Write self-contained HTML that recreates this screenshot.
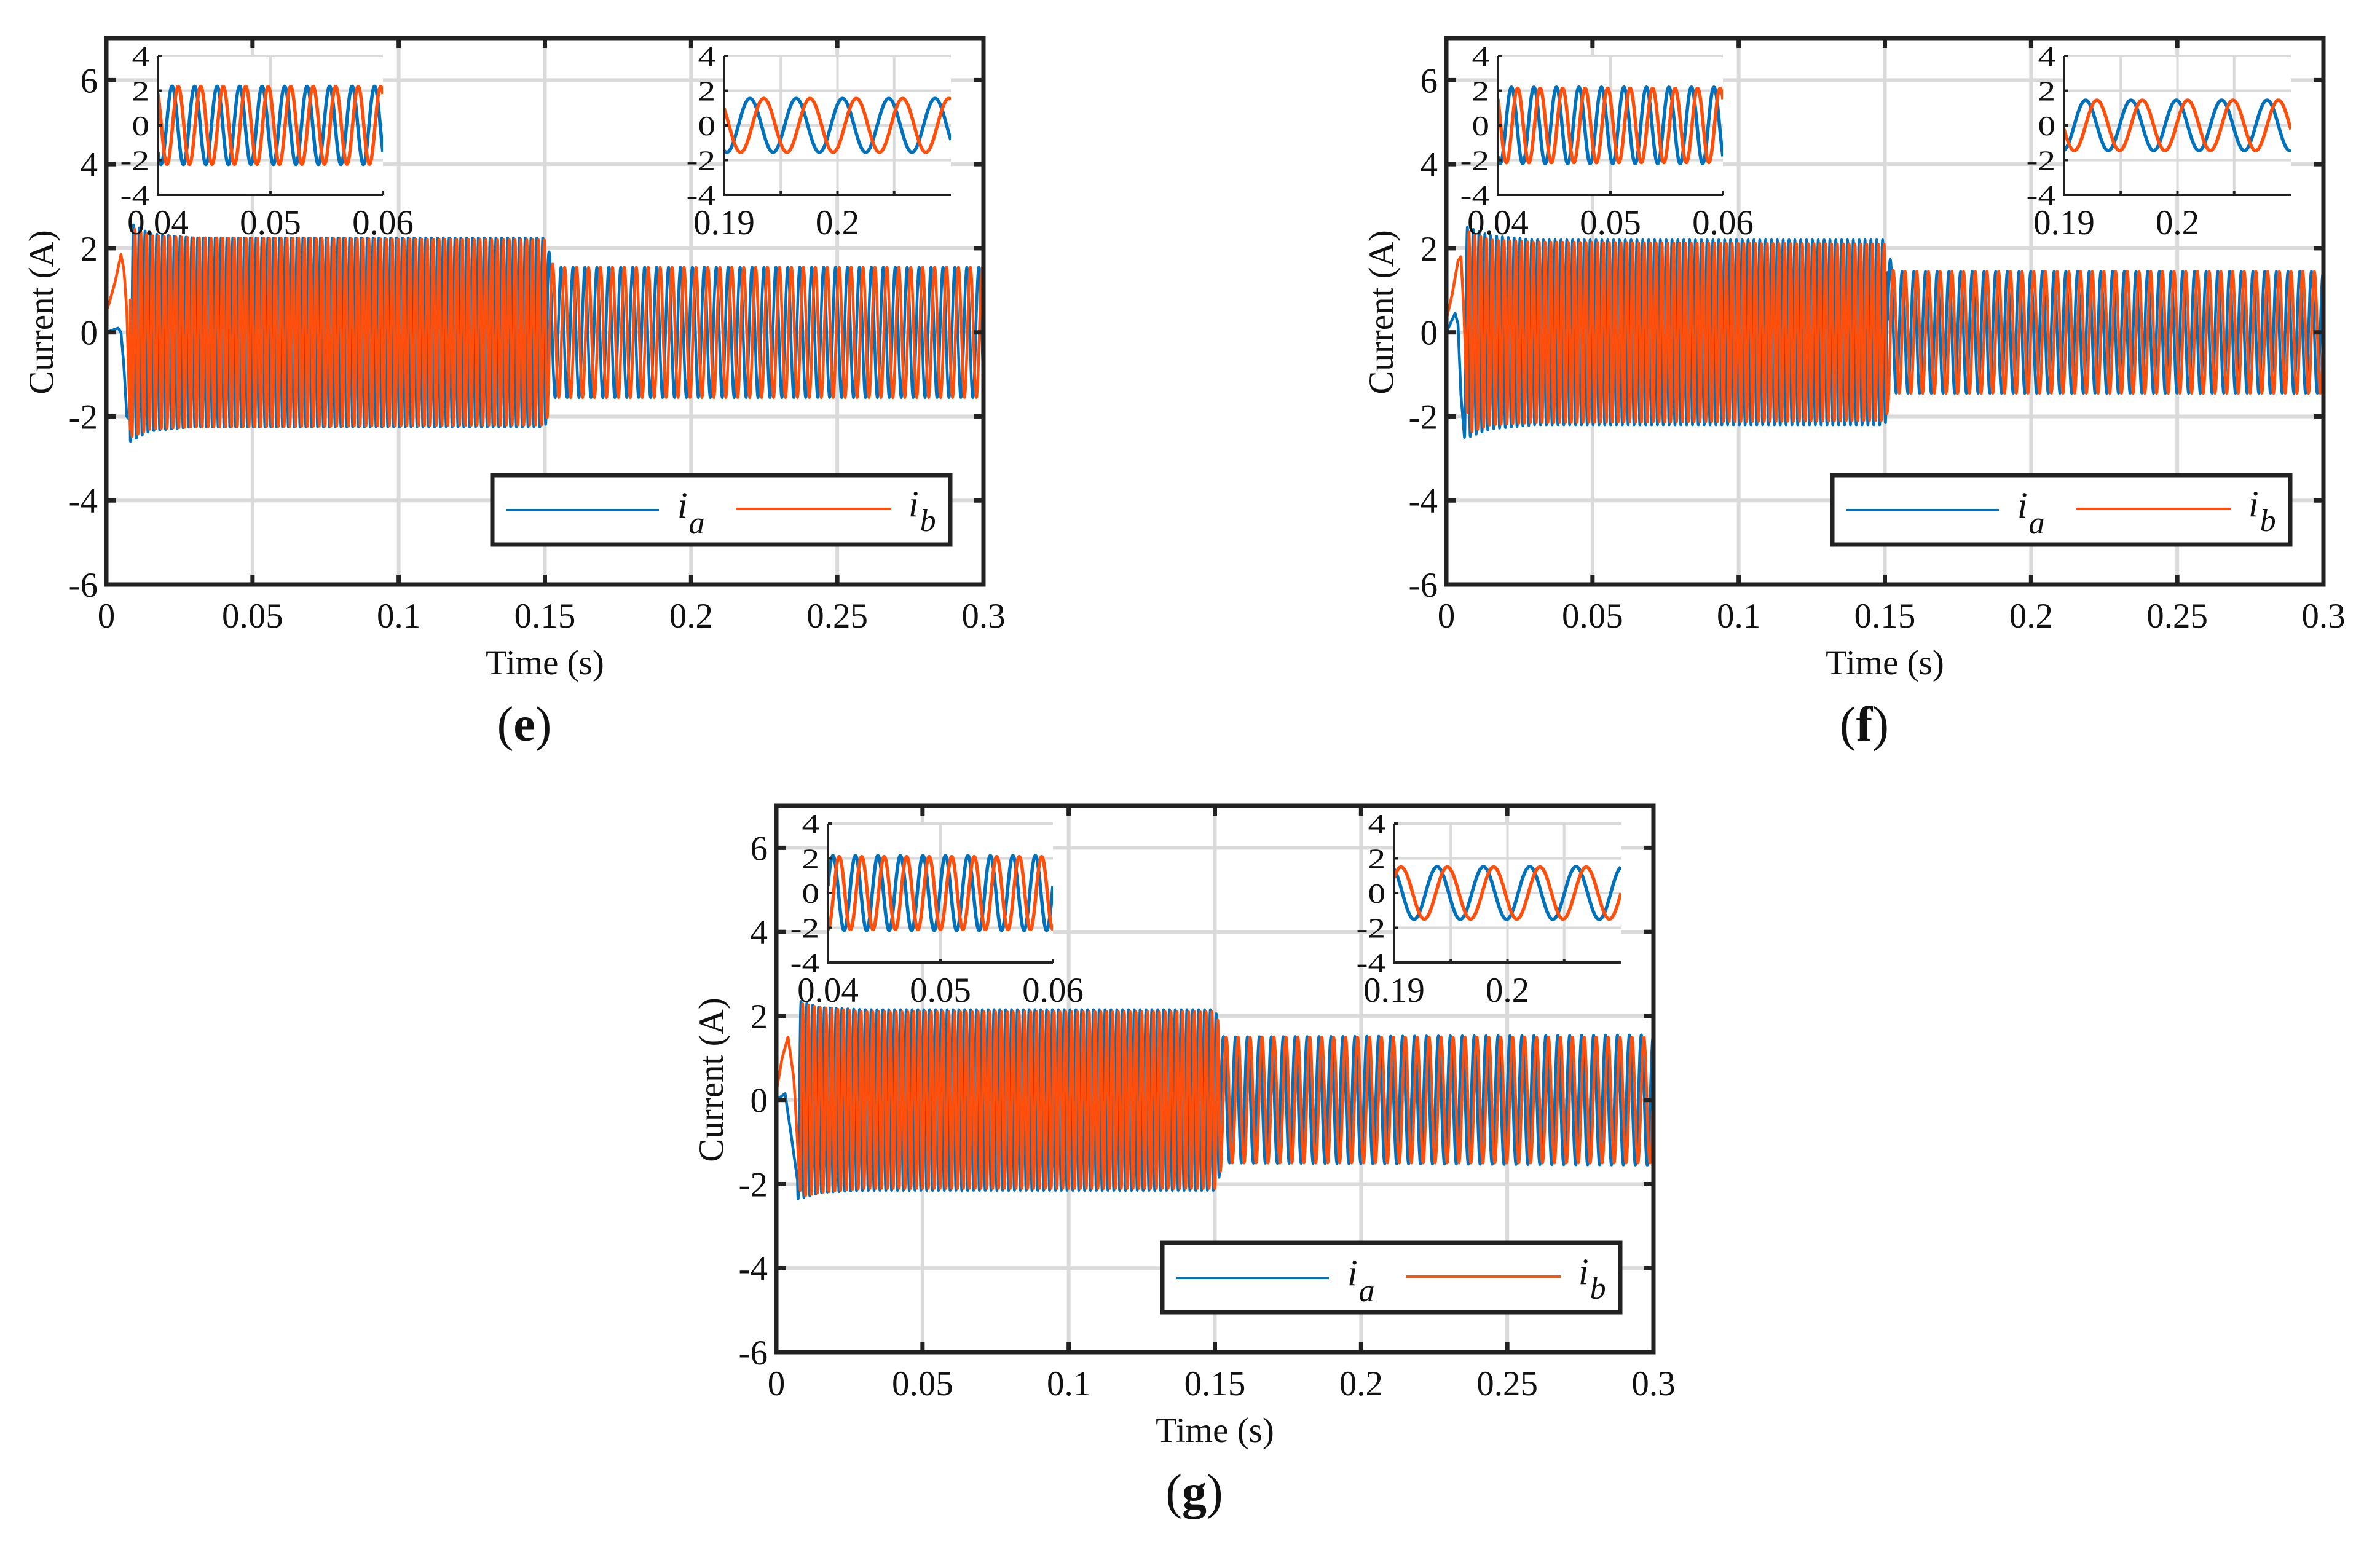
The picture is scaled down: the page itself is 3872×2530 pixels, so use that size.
<!DOCTYPE html>
<html>
<head>
<meta charset="utf-8">
<style>
html,body{margin:0;padding:0;background:#fff;}
svg{display:block;}
text{font-family:"Liberation Serif",serif;fill:#111;}
</style>
</head>
<body>
<svg id="fig" width="3872" height="2530" viewBox="0 0 3872 2530" xmlns="http://www.w3.org/2000/svg">
<rect x="0" y="0" width="3872" height="2530" fill="#fff"/>
</svg>
<script>
// ---------- data ----------
const xTicks = [0, 0.05, 0.1, 0.15, 0.2, 0.25, 0.3];
const xTickLabels = ["0", "0.05", "0.1", "0.15", "0.2", "0.25", "0.3"];
const yTicks = [-6, -4, -2, 0, 2, 4, 6];
const yTickLabels = ["-6", "-4", "-2", "0", "2", "4", "6"];
const insetYTicks = [-4, -2, 0, 2, 4];
const insetYTickLabels = ["-4", "-2", "0", "2", "4"];
const inset1XTicks = [0.04, 0.05, 0.06];
const inset1XTickLabels = ["0.04", "0.05", "0.06"];
const inset1XGrid = [0.05];
const inset2XTicks = [0.19, 0.195, 0.2, 0.205];
const inset2XTickLabels = ["0.19", "", "0.2", ""];
const inset2XGrid = [0.195, 0.2, 0.205];
const panelLabels = ["e", "f", "g"];

// switching instant and frequencies (Hz) before / after the step
const switchTimes = [0.151, 0.151, 0.152];
const freqPre = [500, 500, 500];
const freqPost = [245, 250, 245];

// panel e
const eStartTA = [0, 0.002, 0.004, 0.005, 0.006, 0.007, 0.0082];
const eStartA  = [0, 0.05, 0.1, 0.0, -0.8, -2.0, -2.1];
const eStartTB = [0, 0.001, 0.003, 0.005, 0.006, 0.007, 0.0082];
const eStartB  = [0.5, 0.7, 1.2, 1.85, 1.5, 0.5, -2.4];
const eEnvT = [0.0082, 0.015, 0.03, 0.15, 0.153, 0.3];
const eEnvA = [2.6, 2.35, 2.25, 2.25, 1.55, 1.55];
const eEnvB = [2.5, 2.3, 2.25, 2.2, 1.55, 1.55];
const ePeakPre = [0.04126, 0.0418];
const ePeakPost = [0.19228, 0.1935];

// panel f
const fStartTA = [0, 0.002, 0.003, 0.004, 0.005, 0.0062];
const fStartA  = [0, 0.3, 0.45, 0.2, -1.5, -2.5];
const fStartTB = [0, 0.002, 0.004, 0.005, 0.006, 0.0072];
const fStartB  = [0.3, 0.9, 1.7, 1.8, 0.5, -2.0];
const fEnvT = [0.0072, 0.015, 0.03, 0.15, 0.153, 0.3];
const fEnvA = [2.5, 2.3, 2.2, 2.2, 1.45, 1.45];
const fEnvB = [2.4, 2.2, 2.15, 2.1, 1.45, 1.45];
const fPeakPre = [0.0412, 0.04175];
const fPeakPost = [0.1919, 0.1929];

// panel g
const gStartTA = [0, 0.002, 0.003, 0.005, 0.0072];
const gStartA  = [0, 0.1, 0.15, -0.8, -1.9];
const gStartTB = [0, 0.002, 0.004, 0.006, 0.0082];
const gStartB  = [0.2, 1.0, 1.5, 0.5, -2.2];
const gEnvT = [0.0082, 0.015, 0.03, 0.15, 0.153, 0.3];
const gEnvA = [2.35, 2.2, 2.15, 2.15, 1.5, 1.55];
const gEnvB = [2.3, 2.2, 2.1, 2.1, 1.5, 1.5];
const gPeakPre = [0.04044, 0.0410];
const gPeakPost = [0.1938, 0.1947];

// ---------- drawing ----------
const NS = "http://www.w3.org/2000/svg";
const svg = document.getElementById("fig");
const BLUE = "#0072BD", ORANGE = "#FF4F0A", GRID = "#dadada", AX = "#222";

function mk(tag, attrs, parent) {
  const e = document.createElementNS(NS, tag);
  for (const k in attrs) e.setAttribute(k, attrs[k]);
  (parent || svg).appendChild(e);
  return e;
}
function interp(ts, vs, t) {
  if (t <= ts[0]) return vs[0];
  for (let i = 1; i < ts.length; i++) {
    if (t <= ts[i]) { const r = (t - ts[i-1]) / (ts[i] - ts[i-1]); return vs[i-1] + r * (vs[i] - vs[i-1]); }
  }
  return vs[vs.length - 1];
}
function model(p, s) {
  const st = s === 0 ? p.startTA : p.startTB;
  const sv = s === 0 ? p.startA : p.startB;
  const env = s === 0 ? p.envA : p.envB;
  return function (t) {
    if (t < st[st.length - 1]) return interp(st, sv, t);
    const A = interp(p.envT, env, t);
    let f, tp;
    if (t < p.sw) { f = p.fPre; tp = p.peakPre[s]; } else { f = p.fPost; tp = p.peakPost[s]; }
    return A * Math.cos(2 * Math.PI * f * (t - tp));
  };
}

const panels = [
  {ox: 0, oy: 0, startTA: eStartTA, startA: eStartA, startTB: eStartTB, startB: eStartB, envT: eEnvT, envA: eEnvA, envB: eEnvB, peakPre: ePeakPre, peakPost: ePeakPost},
  {ox: 2180, oy: 0, startTA: fStartTA, startA: fStartA, startTB: fStartTB, startB: fStartB, envT: fEnvT, envA: fEnvA, envB: fEnvB, peakPre: fPeakPre, peakPost: fPeakPost},
  {ox: 1090, oy: 1249, startTA: gStartTA, startA: gStartA, startTB: gStartTB, startB: gStartB, envT: gEnvT, envA: gEnvA, envB: gEnvB, peakPre: gPeakPre, peakPost: gPeakPost}
];
panels.forEach((p, i) => { p.sw = switchTimes[i]; p.fPre = freqPre[i]; p.fPost = freqPost[i]; p.label = panelLabels[i]; });

function tracePath(fn, t0, t1, dt, X, Y) {
  let d = "";
  for (let t = t0; t <= t1 + 1e-12; t += dt) {
    d += (d ? "L" : "M") + X(t).toFixed(1) + "," + Y(fn(t)).toFixed(1);
  }
  return d;
}

function drawPanel(p, idx) {
  const ox = p.ox, oy = p.oy;
  const L = ox + 173, R = ox + 1600, T = oy + 62, B = oy + 951;
  const X = t => L + (t - 0) / 0.3 * (R - L);
  const Y = v => T + (7 - v) / 13 * (B - T);
  const g = mk("g", {});
  
  

  const grid = mk("g", {}, g);
  
  
  xTicks.forEach(t => mk("line", {x1: X(t), x2: X(t), y1: T, y2: B, stroke: GRID, "stroke-width": 6}, grid));
  yTicks.forEach(v => mk("line", {x1: L, x2: R, y1: Y(v), y2: Y(v), stroke: GRID, "stroke-width": 6}, grid));

  const cid = "clip" + idx;
  const cp = mk("clipPath", {id: cid});
  mk("rect", {x: L, y: T, width: R - L, height: B - T}, cp);

  const fa = model(p, 0), fb = model(p, 1);
  const lines = mk("g", {"clip-path": "url(#" + cid + ")"}, g);
  const la = mk("path", {d: tracePath(fa, 0, 0.3, 0.00004, X, Y), fill: "none", stroke: BLUE, "stroke-width": 4.5, "stroke-linejoin": "round"}, lines);
  
  
  const lb = mk("path", {d: tracePath(fb, 0, 0.3, 0.00004, X, Y), fill: "none", stroke: ORANGE, "stroke-width": 4.5, "stroke-linejoin": "round"}, lines);
  
  

  xTicks.forEach(t => {
    mk("line", {x1: X(t), x2: X(t), y1: B, y2: B - 16, stroke: AX, "stroke-width": 7}, g);
    mk("line", {x1: X(t), x2: X(t), y1: T, y2: T + 16, stroke: AX, "stroke-width": 7}, g);
  });
  yTicks.forEach(v => {
    mk("line", {x1: L, x2: L + 16, y1: Y(v), y2: Y(v), stroke: AX, "stroke-width": 7}, g);
    mk("line", {x1: R, x2: R - 16, y1: Y(v), y2: Y(v), stroke: AX, "stroke-width": 7}, g);
  });

  drawInset(p, idx, 1, ox + 257, ox + 623, 0.04, 0.06, inset1XTicks, inset1XTickLabels, inset1XGrid, fa, fb, g);
  drawInset(p, idx, 2, ox + 1178, ox + 1547, 0.19, 0.21, inset2XTicks, inset2XTickLabels, inset2XGrid, fa, fb, g);

  const frame = mk("rect", {x: L, y: T, width: R - L, height: B - T, fill: "none", stroke: AX, "stroke-width": 7}, g);
  
  

  xTicks.forEach((t, i) => {
    const tx = mk("text", {x: X(t), y: oy + 1021, "font-size": 57, "text-anchor": "middle"}, g);
    tx.textContent = xTickLabels[i];
    
    
  });
  yTicks.forEach((v, i) => {
    const tx = mk("text", {x: L - 14, y: Y(v) + 20, "font-size": 57, "text-anchor": "end"}, g);
    tx.textContent = yTickLabels[i];
    
    
  });

  const xt = mk("text", {x: (L + R) / 2, y: oy + 1097, "font-size": 57, "text-anchor": "middle"}, g);
  xt.textContent = "Time (s)";
  
  
  const yt = mk("text", {x: 0, y: 0, "font-size": 57, "text-anchor": "middle", transform: "translate(" + (ox + 86) + "," + (oy + 508) + ") rotate(-90)"}, g);
  yt.textContent = "Current (A)";
  
  

  const pl = mk("text", {x: ox + 853, y: oy + 1205, "font-size": 80, "text-anchor": "middle"}, g);
  pl.innerHTML = '(<tspan font-weight="bold">' + p.label + '</tspan>)';
  
  

  const lg = mk("g", {}, g);
  
  
  mk("rect", {x: ox + 801, y: oy + 773, width: 745, height: 113, fill: "#fff", stroke: AX, "stroke-width": 7}, lg);
  const e1 = mk("line", {x1: ox + 824, x2: ox + 1072, y1: oy + 830, y2: oy + 830, stroke: BLUE, "stroke-width": 4}, lg);
  
  
  const t1 = mk("text", {x: ox + 1102, y: oy + 842, "font-size": 60, "font-style": "italic"}, lg);
  t1.innerHTML = 'i<tspan dx="2" dy="26" font-size="52">a</tspan>';
  
  
  const e2 = mk("line", {x1: ox + 1197, x2: ox + 1449, y1: oy + 828, y2: oy + 828, stroke: ORANGE, "stroke-width": 4}, lg);
  
  
  const t2 = mk("text", {x: ox + 1478, y: oy + 840, "font-size": 60, "font-style": "italic"}, lg);
  t2.innerHTML = 'i<tspan dx="2" dy="24" font-size="52">b</tspan>';
  
  
}

function drawInset(p, idx, n, L, R, t0, t1, ticks, tickLabels, gridX, fa, fb, parent) {
  const oy = p.oy;
  const T = oy + 91, B = oy + 317;
  const X = t => L + (t - t0) / (t1 - t0) * (R - L);
  const Y = v => T + (4 - v) / 8 * (B - T);
  const g = mk("g", {}, parent);
  
  
  mk("rect", {x: L, y: T, width: R - L, height: B - T, fill: "#fff"}, g);
  gridX.forEach(t => mk("line", {x1: X(t), x2: X(t), y1: T, y2: B, stroke: GRID, "stroke-width": 4}, g));
  insetYTicks.forEach(v => { if (v > -4) mk("line", {x1: L, x2: R, y1: Y(v), y2: Y(v), stroke: GRID, "stroke-width": 4}, g); });
  const cid = "iclip" + idx + "_" + n;
  const cp = mk("clipPath", {id: cid}, g);
  mk("rect", {x: L, y: T - 3, width: R - L, height: B - T + 3}, cp);
  const lines = mk("g", {"clip-path": "url(#" + cid + ")"}, g);
  const la = mk("path", {d: tracePath(fa, t0, t1, 0.00002, X, Y), fill: "none", stroke: BLUE, "stroke-width": 5.5, "stroke-linejoin": "round"}, lines);
  
  
  const lb = mk("path", {d: tracePath(fb, t0, t1, 0.00002, X, Y), fill: "none", stroke: ORANGE, "stroke-width": 5.5, "stroke-linejoin": "round"}, lines);
  
  
  mk("line", {x1: L, x2: L, y1: T, y2: B + 2, stroke: AX, "stroke-width": 4}, g);
  mk("line", {x1: L - 2, x2: R, y1: B, y2: B, stroke: AX, "stroke-width": 4}, g);
  ticks.forEach(t => mk("line", {x1: X(t), x2: X(t), y1: B, y2: B - 6, stroke: AX, "stroke-width": 4}, g));
  insetYTicks.forEach(v => mk("line", {x1: L, x2: L + 6, y1: Y(v), y2: Y(v), stroke: AX, "stroke-width": 4}, g));
  insetYTicks.forEach((v, i) => {
    const tx = mk("text", {x: 0, y: 0, "font-size": 57, "text-anchor": "end", transform: "translate(" + (L - 14) + "," + (Y(v) + 16) + ") scale(1,0.8)"}, g);
    tx.textContent = insetYTickLabels[i];
    
    
  });
  ticks.forEach((t, i) => {
    if (!tickLabels[i]) return;
    const tx = mk("text", {x: X(t), y: oy + 381, "font-size": 57, "text-anchor": "middle"}, g);
    tx.textContent = tickLabels[i];
    
    
  });
}

panels.forEach((p, i) => drawPanel(p, i));
</script>
</body>
</html>
